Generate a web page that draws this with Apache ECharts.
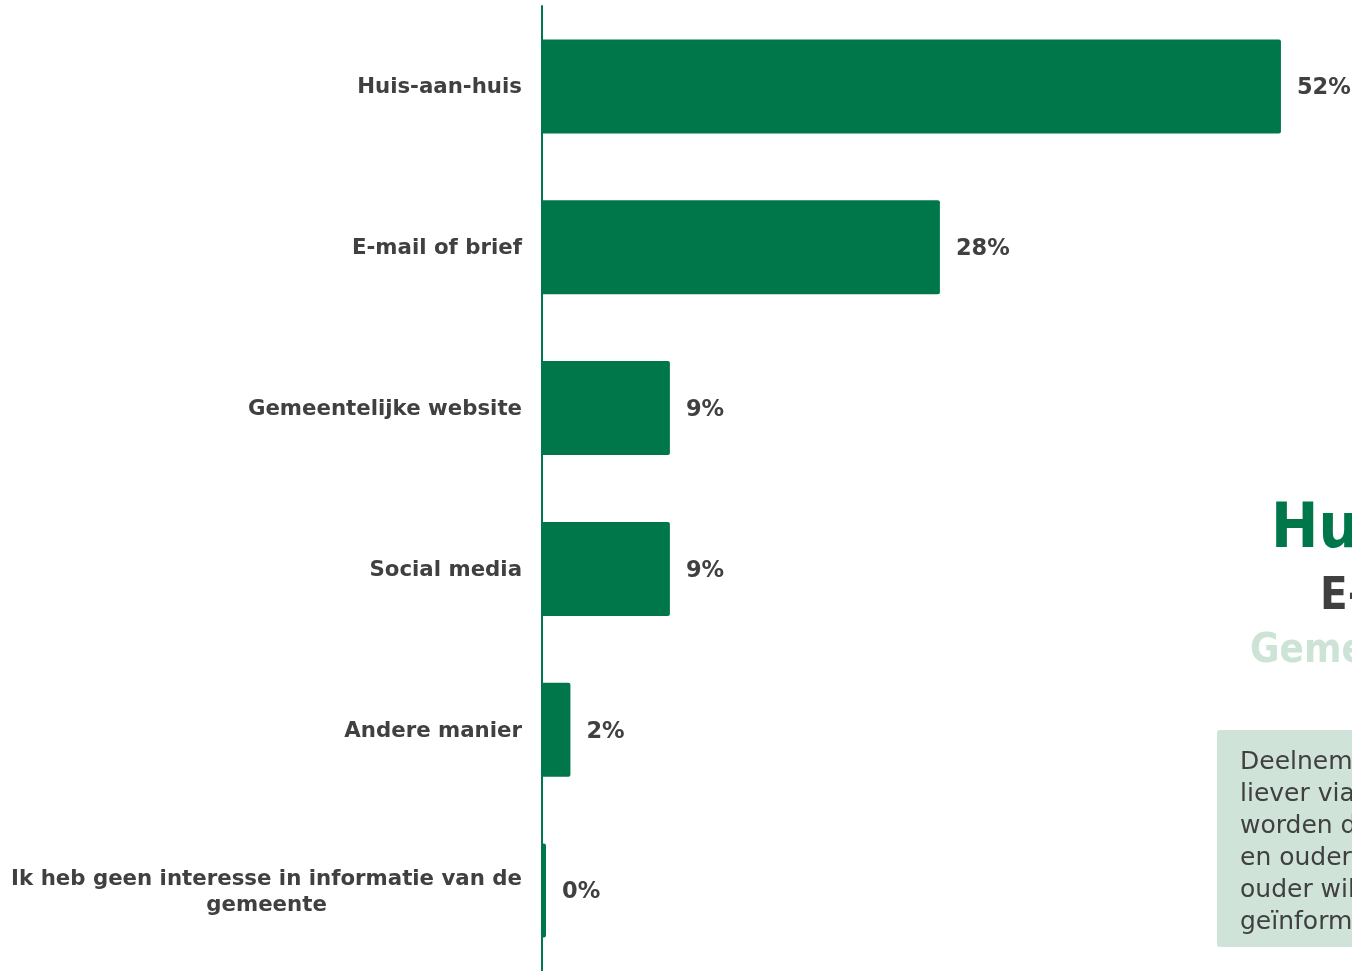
<!DOCTYPE html>
<html>
<head>
<meta charset="utf-8">
<title>Communicatievoorkeur</title>
<script src="https://cdn.jsdelivr.net/npm/echarts@6/dist/echarts.min.js"></script>
<style>
  html, body { margin: 0; padding: 0; background: #ffffff; }
  #chart { width: 1352px; height: 971px; }
</style>
</head>
<body>
<div id="chart"></div>
<script>
// Survey: preferred channel for receiving information from the municipality
const categories = [
  'Huis-aan-huis',
  'E-mail of brief',
  'Gemeentelijke website',
  'Social media',
  'Andere manier',
  'Ik heb geen interesse in informatie van de\ngemeente'
];
const shares = [52, 28, 9, 9, 2, 0];

// Ranking headline on the right, largest first
const rankTitles = ['Huis-aan-huis', 'E-mail of brief', 'Gemeentelijke website'];

// Explanatory note lines
const noteLines = [
  'Deelnemers willen de informatie',
  'liever via Huis-aan-huis ontvangen',
  'worden dan via e-mail of brief. 65-',
  'en ouderen en mensen van 35 jaar en',
  'ouder willen vaker via Huis-aan-huis',
  'geïnformeerd worden.'
];

const GREEN = '#00774A';
const TEXT = '#404040';
const LIGHT = '#CDE3D6';
const FONT = '"DejaVu Sans", Verdana, sans-serif';

const chart = echarts.init(document.getElementById('chart'), null, { renderer: 'canvas' });

chart.setOption({
  backgroundColor: '#ffffff',
  animation: false,
  grid: { left: 542, top: 6, right: 0, height: 969, containLabel: false },
  xAxis: {
    type: 'value',
    min: 0,
    max: 57,
    show: false
  },
  yAxis: {
    type: 'category',
    inverse: true,
    data: categories,
    axisLine: { show: true, lineStyle: { color: GREEN, width: 2 } },
    axisTick: { show: false },
    splitLine: { show: false },
    axisLabel: {
      margin: 20,
      color: TEXT,
      fontFamily: FONT,
      fontWeight: 'bold',
      fontSize: 21.3,
      lineHeight: 26,
      formatter: function (v) {
        return v.split('\n').map(function (l) { return '{c|' + l + '}'; }).join('\n');
      },
      rich: {
        c: {
          align: 'center',
          color: TEXT,
          fontFamily: FONT,
          fontWeight: 'bold',
          fontSize: 21.3,
          lineHeight: 26,
          padding: [3, 0, 0, 0]
        }
      }
    }
  },
  series: [{
    type: 'bar',
    data: shares,
    barWidth: 94,
    barMinHeight: 4,
    itemStyle: { color: GREEN, borderRadius: [0, 2, 2, 0] },
    label: {
      show: true,
      position: 'right',
      distance: 16,
      offset: [0, 2],
      formatter: '{c}%',
      color: TEXT,
      fontFamily: FONT,
      fontWeight: 'bold',
      fontSize: 22.5
    }
  }],
  graphic: [
    {
      type: 'text', left: 1271, top: 499,
      style: { text: rankTitles[0], fill: GREEN, font: 'bold 63px "DejaVu Sans Condensed", "DejaVu Sans", sans-serif' }
    },
    {
      type: 'text', left: 1320, top: 575,
      style: { text: rankTitles[1], fill: '#3F3F3F', font: 'bold 45px "DejaVu Sans Condensed", "DejaVu Sans", sans-serif' }
    },
    {
      type: 'text', left: 1250, top: 632,
      style: { text: rankTitles[2], fill: LIGHT, font: 'bold 40px "DejaVu Sans Condensed", "DejaVu Sans", sans-serif' }
    },
    {
      type: 'rect', left: 1217, top: 730,
      shape: { width: 420, height: 217, r: 3 },
      style: { fill: '#CFE3D8' }
    },
    {
      type: 'text', left: 1240, top: 746,
      style: {
        text: noteLines.join('\n'),
        fill: TEXT,
        font: '25px "DejaVu Sans", Verdana, sans-serif',
        lineHeight: 32
      }
    }
  ]
});
</script>
</body>
</html>
